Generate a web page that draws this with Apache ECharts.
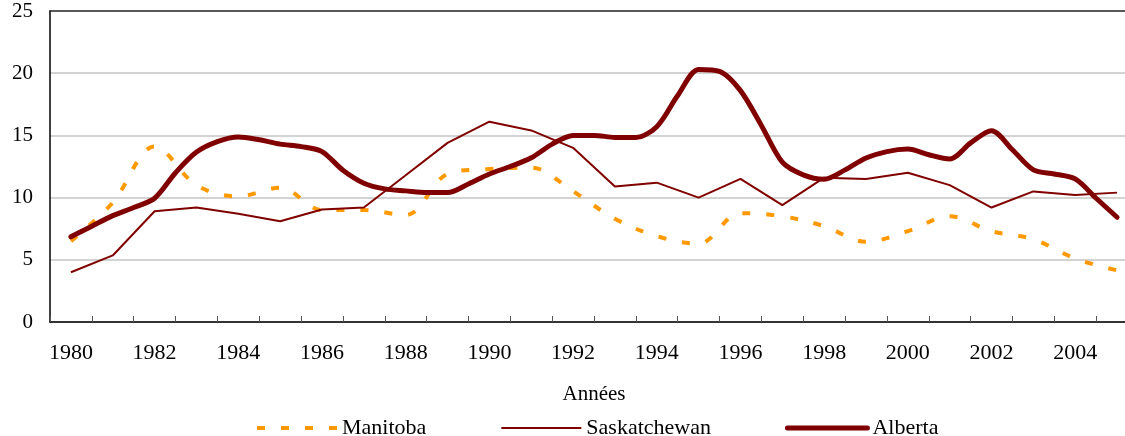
<!DOCTYPE html>
<html>
<head>
<meta charset="utf-8">
<script src="https://cdn.jsdelivr.net/npm/echarts@6/dist/echarts.min.js"></script>
<style>
html,body{margin:0;padding:0;background:#fff;overflow:hidden;width:1125px;height:436px;}
#chart{width:1140px;height:436px;}
</style>
</head>
<body>
<div id="chart"></div>
<script>
// Categories (years) and tick labels
const years = ['1980','1981','1982','1983','1984','1985','1986','1987','1988','1989','1990','1991','1992',
  '1993','1994','1995','1996','1997','1998','1999','2000','2001','2002','2003','2004','2005'];
const yTicks = [0, 5, 10, 15, 20, 25];

// Series values (yearly)
const manitoba = [6.5, 9.6, 14.1, 11.0, 10.1, 10.8, 9.0, 9.0, 8.6, 11.9, 12.3, 12.4, 10.5,
  8.3, 6.9, 6.3, 8.75, 8.5, 7.7, 6.45, 7.3, 8.5, 7.3, 6.65, 5.1, 4.15];
const saskatchewan = [4.0, 5.35, 8.9, 9.2, 8.7, 8.1, 9.05, 9.2, 11.8, 14.4, 16.1, 15.4, 14.0,
  10.9, 11.2, 10.0, 11.5, 9.4, 11.6, 11.5, 12.0, 11.0, 9.2, 10.5, 10.2, 10.4];

// Alberta is drawn from half-yearly readings
const albertaTimes = [1980, 1980.5, 1981, 1981.5, 1982, 1982.5, 1983, 1983.5, 1984, 1984.5, 1985, 1985.5,
  1986, 1986.5, 1987, 1987.5, 1988, 1988.5, 1989, 1989.5, 1990, 1990.5, 1991, 1991.5, 1992, 1992.5,
  1993, 1993.5, 1994, 1994.5, 1995, 1995.5, 1996, 1996.5, 1997, 1997.5, 1998, 1998.5, 1999, 1999.5,
  2000, 2000.5, 2001, 2001.5, 2002, 2002.5, 2003, 2003.5, 2004, 2004.5, 2005];
const alberta = [6.85, 7.7, 8.55, 9.2, 9.95, 12.0, 13.66, 14.5, 14.87, 14.65, 14.3, 14.1,
  13.7, 12.2, 11.16, 10.7, 10.54, 10.4, 10.4, 11.1, 11.9, 12.5, 13.2, 14.3, 15.0, 15.0,
  14.84, 14.84, 15.7, 18.2, 20.3, 20.15, 18.6, 15.8, 12.85, 11.83, 11.48, 12.23, 13.18, 13.7,
  13.9, 13.44, 13.1, 14.4, 15.38, 13.85, 12.23, 11.9, 11.5, 9.95, 8.42];

const seriesNames = ['Manitoba', 'Saskatchewan', 'Alberta'];
const axisTitle = 'Années';

const yearNums = years.map(Number);
const pairs = (xs, vs) => vs.map((v, i) => [xs[i], v]);

const FONT = 'Liberation Serif, Times New Roman, serif';
const chart = echarts.init(document.getElementById('chart'), null, {renderer: 'canvas'});
chart.setOption({
  animation: false,
  backgroundColor: '#fff',
  grid: {
    left: 50, right: 2, top: 11, bottom: 114,
    show: false
  },
  legend: {
    data: seriesNames,
    left: 250, top: 412,
    itemWidth: 80, itemHeight: 10, itemGap: 74,
    itemStyle: {opacity: 0},
    lineStyle: {width: 'inherit'},
    textStyle: {fontFamily: FONT, fontSize: 22, color: '#000'}
  },
  xAxis: [{
    type: 'category',
    data: years,
    boundaryGap: true,
    name: axisTitle,
    nameLocation: 'middle',
    nameGap: 62,
    nameTextStyle: {fontFamily: FONT, fontSize: 21, color: '#000'},
    axisLine: {lineStyle: {color: '#000', width: 1.5}},
    axisTick: {show: true, inside: true, length: 6, interval: 0, lineStyle: {color: '#555', width: 1}},
    axisLabel: {interval: 1, margin: 20, fontFamily: FONT, fontSize: 22, color: '#000'},
    splitLine: {show: false}
  }, {
    type: 'value',
    min: 1979.5, max: 2005.5,
    show: false,
    splitLine: {show: false}
  }, {
    // top frame line
    type: 'category',
    data: years,
    position: 'top',
    axisLine: {show: true, lineStyle: {color: '#222', width: 1.5}},
    axisTick: {show: false},
    axisLabel: {show: false},
    splitLine: {show: false}
  }],
  yAxis: {
    type: 'value',
    min: yTicks[0], max: yTicks[yTicks.length - 1], interval: 5,
    axisLine: {show: true, lineStyle: {color: '#000', width: 1.5}},
    axisTick: {show: false},
    axisLabel: {margin: 17, fontFamily: FONT, fontSize: 21, color: '#000'},
    splitLine: {show: true, showMaxLine: false, lineStyle: {color: '#c4c4c4', width: 1.5}}
  },
  series: [{
    name: seriesNames[0], type: 'line', xAxisIndex: 1,
    data: pairs(yearNums, manitoba),
    smooth: 0.35, symbol: 'none',
    lineStyle: {color: '#FF9900', width: 4, type: [8, 16]},
    itemStyle: {color: '#FF9900'}
  }, {
    name: seriesNames[1], type: 'line', xAxisIndex: 1,
    data: pairs(yearNums, saskatchewan),
    smooth: false, symbol: 'none',
    lineStyle: {color: '#800000', width: 2},
    itemStyle: {color: '#800000'}
  }, {
    name: seriesNames[2], type: 'line', xAxisIndex: 1,
    data: pairs(albertaTimes, alberta),
    smooth: 0.3, symbol: 'none',
    lineStyle: {color: '#800000', width: 5, cap: 'round', join: 'round'},
    itemStyle: {color: '#800000'}
  }]
});
</script>
</body>
</html>
